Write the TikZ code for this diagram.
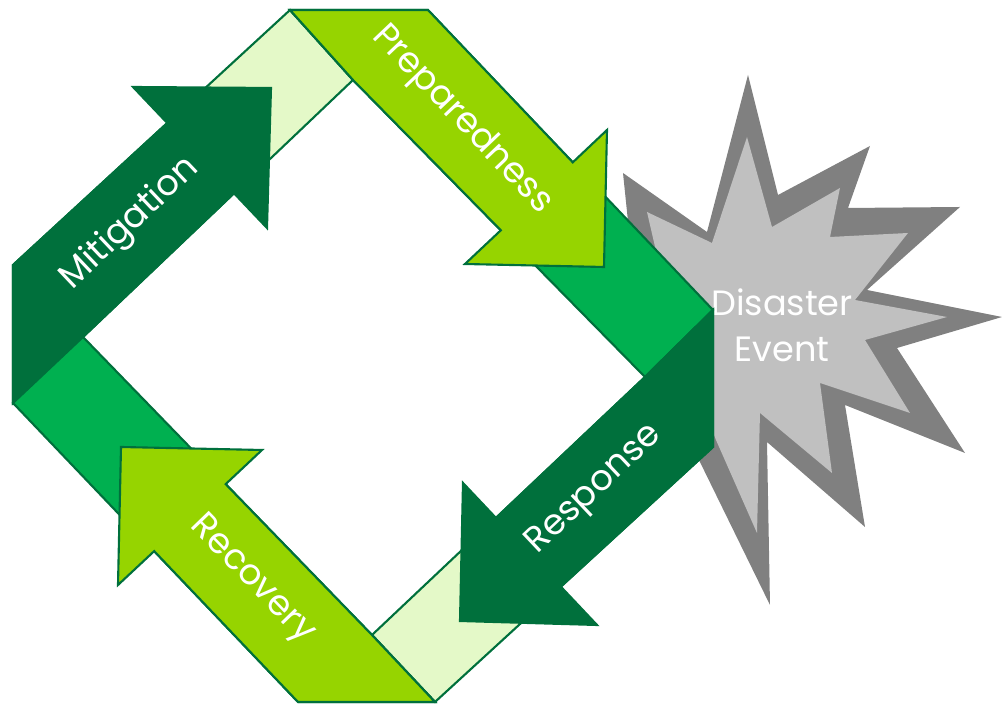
\documentclass[tikz,border=0pt]{standalone}
\usepackage{fontspec}
\setmainfont{Poppins}
\usepackage{tikz}
\usetikzlibrary{calc}
\definecolor{DarkGreen}{RGB}{0,112,60}
\definecolor{LimeGreen}{RGB}{150,212,0}
\definecolor{MidGreen}{RGB}{0,176,80}
\definecolor{PaleGreen}{RGB}{228,249,200}
\definecolor{StarDark}{RGB}{128,128,128}
\definecolor{StarLight}{RGB}{192,192,192}

\begin{document}
\begin{tikzpicture}[x=0.01cm, y=-0.01cm,
		piece/.style={draw=DarkGreen, line width=0.6pt, line join=miter},
		bandtext/.style={text=white, inner sep=0pt, font=\fontsize{10.1}{12}\selectfont}]
		\useasboundingbox (0,0) rectangle (1002,704);
		
		% 四个角：外侧切口与内侧顶点
		\coordinate (Lt) at (13,265);  \coordinate (Lb) at (13,403);
		\coordinate (Tl) at (290,10);  \coordinate (Tr) at (428,10);
		\coordinate (Rt) at (713,310); \coordinate (Rb) at (713,447);
		\coordinate (Bl) at (298,702); \coordinate (Br) at (435,702);
		\coordinate (Li) at (83,337);  \coordinate (Ti) at (353,80);
		\coordinate (Ri) at (645,377); \coordinate (Bi) at (372,635);
		
		% 箭头：尖端与两个底角
		\coordinate (Mtip) at (271,88);  \coordinate (Mh1) at (133,87);  \coordinate (Mh2) at (267,228);
		\coordinate (Ptip) at (604,267); \coordinate (Ph1) at (607,130); \coordinate (Ph2) at (465,264);
		\coordinate (Stip) at (460,621); \coordinate (Sh1) at (597,625); \coordinate (Sh2) at (463,483);
		\coordinate (Ctip) at (121,447); \coordinate (Ch1) at (118,585); \coordinate (Ch2) at (262,450);
		
		\coordinate (MnO) at (intersection of Lt--Tl and Mh1--Mh2);
		\coordinate (MnI) at (intersection of Li--Ti and Mh1--Mh2);
		\coordinate (PnO) at (intersection of Tr--Rt and Ph1--Ph2);
		\coordinate (PnI) at (intersection of Ti--Ri and Ph1--Ph2);
		\coordinate (SnO) at (intersection of Rb--Br and Sh1--Sh2);
		\coordinate (SnI) at (intersection of Ri--Bi and Sh1--Sh2);
		\coordinate (CnO) at (intersection of Bl--Lb and Ch1--Ch2);
		\coordinate (CnI) at (intersection of Bi--Li and Ch1--Ch2);
		
		% 爆炸星形
		\fill[StarDark] (623,173) -- (707,232) -- (748,75) -- (778,195) -- (870,146) -- (848,208)
			-- (960,207) -- (867,290) -- (1002,317) -- (897,348) -- (965,453) -- (845,405)
			-- (865,527) -- (767,442) -- (770,605) -- (698,458) -- (632,260) -- cycle;
		\fill[StarLight] (647,212) -- (712,243) -- (747,137) -- (772,227) -- (840,188) -- (830,237)
			-- (908,233) -- (855,300) -- (947,317) -- (865,340) -- (910,413) -- (820,383)
			-- (832,473) -- (760,413) -- (757,533) -- (716,440) -- (700,400) -- (665,290) -- cycle;
		\node[text=white, align=center, inner sep=0pt, font=\fontsize{10}{13}\selectfont]
			(event) at (782,325) {Disaster\\Event};
		
		% Mitigation
		\filldraw[piece, fill=PaleGreen] (Lt) -- (Tl) -- (Ti) -- (Li) -- (Lb) -- cycle;
		\filldraw[piece, fill=DarkGreen] (Lb) -- (Lt) -- (MnO) -- (Mh1) -- (Mtip) -- (Mh2) -- (MnI) -- (Li) -- cycle;
		% Preparedness
		\filldraw[piece, fill=MidGreen] (Tl) -- (Tr) -- (Rt) -- (Ri) -- (Ti) -- cycle;
		\filldraw[piece, fill=LimeGreen] (Tl) -- (Tr) -- (PnO) -- (Ph1) -- (Ptip) -- (Ph2) -- (PnI) -- (Ti) -- cycle;
		% Response
		\filldraw[piece, fill=PaleGreen] (Rt) -- (Rb) -- (Br) -- (Bi) -- (Ri) -- cycle;
		\filldraw[piece, fill=DarkGreen] (Rt) -- (Rb) -- (SnO) -- (Sh1) -- (Stip) -- (Sh2) -- (SnI) -- (Ri) -- cycle;
		% Recovery
		\filldraw[piece, fill=MidGreen] (Br) -- (Bl) -- (Lb) -- (Li) -- (Bi) -- cycle;
		\filldraw[piece, fill=LimeGreen] (Br) -- (Bl) -- (CnO) -- (Ch1) -- (Ctip) -- (Ch2) -- (CnI) -- (Bi) -- cycle;
		
		\node[bandtext, rotate=43.5] (mit) at (130,224) {Mitigation};
		\node[bandtext, rotate=-46.5] (prep) at (462,120) {Preparedness};
		\node[bandtext, rotate=43.4] (resp) at (595,490) {Response};
		\node[bandtext, rotate=-46] (rec) at (252,580) {Recovery};
	\end{tikzpicture}
\end{document}
